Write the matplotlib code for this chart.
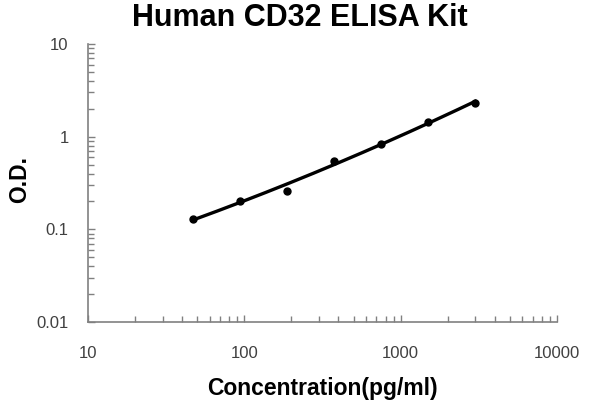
import numpy as np
import matplotlib.pyplot as plt
from matplotlib.ticker import LogLocator, FixedFormatter, FixedLocator

plt.rcParams['font.family'] = ['Liberation Sans', 'DejaVu Sans']

conc = [46.88, 93.75, 187.5, 375, 750, 1500, 3000]
od = [0.128, 0.204, 0.262, 0.55, 0.83, 1.44, 2.33]

x_ticks = [10, 100, 1000, 10000]
x_labels = ['10', '100', '1000', '10000']
y_ticks = [0.01, 0.1, 1, 10]
y_labels = ['0.01', '0.1', '1', '10']

fig = plt.figure(figsize=(6, 4), dpi=100)
ax = fig.add_axes([0.1467, 0.195, 0.7816, 0.695])

# smooth fit in log-log space
lx, ly = np.log10(conc), np.log10(od)
coef = np.polyfit(lx, ly, 2)
xs = np.linspace(lx[0], lx[-1], 200)
ax.plot(10 ** xs, 10 ** np.polyval(coef, xs), color='black', lw=2.4, zorder=2)
ax.plot(conc, od, 'o', color='black', ms=5, zorder=3)

ax.set_xscale('log')
ax.set_yscale('log')
ax.set_xlim(10, 10000)
ax.set_ylim(0.01, 10)

ax.xaxis.set_major_locator(FixedLocator(x_ticks))
ax.xaxis.set_major_formatter(FixedFormatter(x_labels))
ax.yaxis.set_major_locator(FixedLocator(y_ticks))
ax.yaxis.set_major_formatter(FixedFormatter(y_labels))
ax.xaxis.set_minor_locator(LogLocator(subs=np.arange(2, 10)))
ax.yaxis.set_minor_locator(LogLocator(subs=np.arange(2, 10)))
ax.xaxis.set_minor_formatter(FixedFormatter([]))
ax.yaxis.set_minor_formatter(FixedFormatter([]))

for s in ['top', 'right']:
    ax.spines[s].set_visible(False)
for s in ['left', 'bottom']:
    ax.spines[s].set_color('#808080')
    ax.spines[s].set_linewidth(1.2)

ax.tick_params(which='both', direction='in', color='#808080', labelcolor='#404040',
               labelsize=12)
ax.tick_params(which='major', length=5, width=1)
ax.tick_params(which='minor', length=4, width=1)
ax.tick_params(axis='x', pad=17)
ax.tick_params(axis='y', pad=14)

fig.suptitle('Human CD32 ELISA Kit', x=0.5, y=0.955, va='center',
             fontsize=22, fontweight='bold')
ax.set_xlabel('Concentration(pg/ml)', fontsize=16.5, fontweight='bold', labelpad=12)
ax.set_ylabel('O.D.', fontsize=16.5, fontweight='bold')
ax.yaxis.set_label_coords(-0.122, 0.511)

fig.savefig('out.png', dpi=100)
